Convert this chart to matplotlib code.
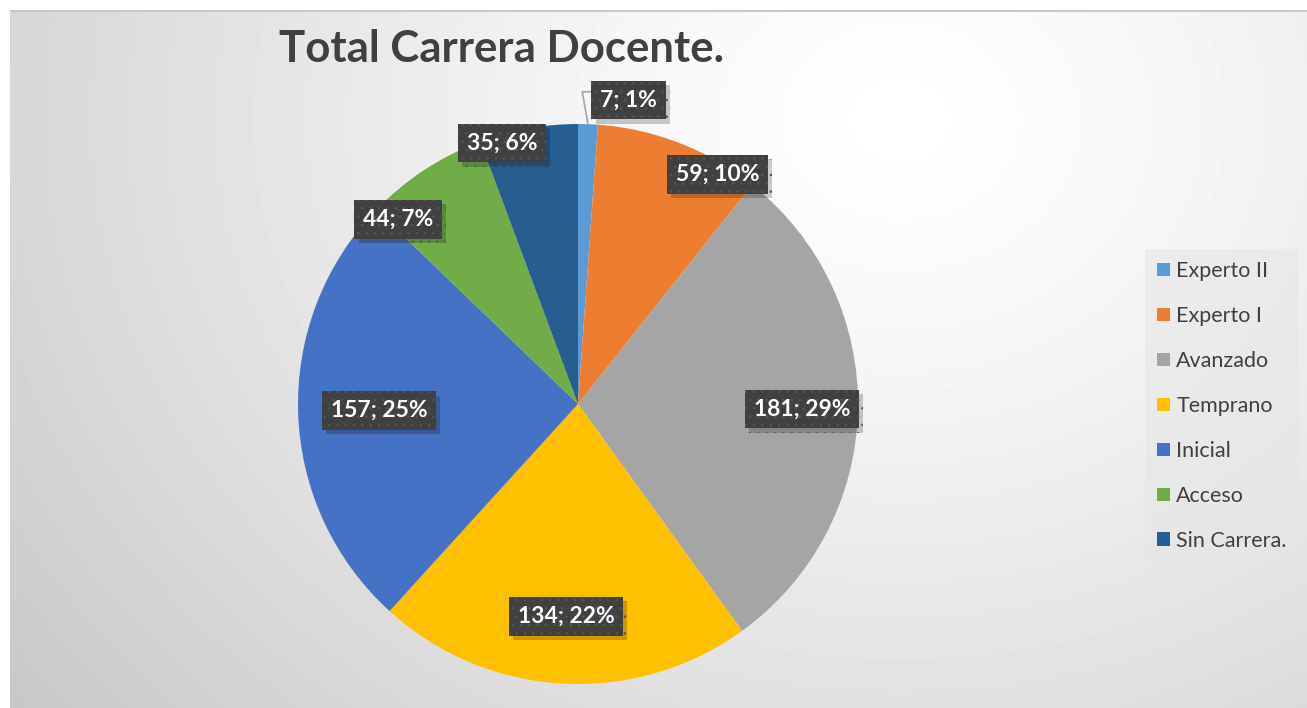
import numpy as np
import matplotlib.pyplot as plt
from matplotlib import patheffects as pe

plt.rcParams['font.family'] = ['Lato', 'DejaVu Sans']
plt.rcParams['hatch.linewidth'] = 0.6

categories = ["Experto II", "Experto I", "Avanzado", "Temprano", "Inicial", "Acceso", "Sin Carrera."]
values = [7, 59, 181, 134, 157, 44, 35]
colors = ["#5B9BD5", "#ED7D31", "#A5A5A5", "#FFC000", "#4472C4", "#70AD47", "#255E91"]

# label placement: radius factor and angle nudge (deg) per wedge
label_r = [1.10, 0.96, 0.80, 0.76, 0.71, 0.92, 0.97]
label_da = [-7.4, -10, 0, 0, 0, 11, 6]

W, H = 1307, 708
fig = plt.figure(figsize=(W / 100, H / 100), dpi=100, facecolor="white")

# background gradient
bg = fig.add_axes([10 / W, 0, 1 - 10 / W, 1 - 10 / H])
yy, xx = np.mgrid[0:698, 0:1297]
d = np.hypot(xx - 890, (yy - 110) * 1.2)
v = 1 - 0.21 * (d / 1100) ** 1.3
bg.imshow(v, cmap="gray", vmin=0, vmax=1, aspect="auto", interpolation="bilinear")
bg.axhline(0, color="#c8c8c8", lw=1.5)
bg.axis("off")

ax = fig.add_axes([298 / W, 24 / H, 560 / W, 560 / H])
wedges, _ = ax.pie(values, colors=colors, startangle=90, counterclock=False,
                   radius=1, center=(0, 0), frame=True)
ax.set_xlim(-1, 1)
ax.set_ylim(-1, 1)
ax.axis("off")

total = sum(values)
for i, w in enumerate(wedges):
    mid = (w.theta1 + w.theta2) / 2
    a = np.deg2rad(mid + label_da[i])
    x, y = label_r[i] * np.cos(a), label_r[i] * np.sin(a)
    txt = f"{values[i]}; {round(100 * values[i] / total)}%"
    bbox = dict(boxstyle="square,pad=0.38", fc="#404040", ec="#555555", lw=0, hatch="..")
    if i == 0:
        ea = np.deg2rad(mid)
        t = ax.annotate(txt, xy=(np.cos(ea), np.sin(ea)), xytext=(x, y),
                        ha="center", va="center", color="white", fontsize=16.5,
                        fontweight="bold", bbox=bbox, annotation_clip=False,
                        arrowprops=dict(arrowstyle="-", color="#a6a6a6", lw=1.2,
                                        shrinkA=0, shrinkB=0, relpos=(0, 0.9),
                                        connectionstyle="angle,angleA=180,angleB=100,rad=0"))
    else:
        t = ax.text(x, y, txt, ha="center", va="center", color="white", fontsize=16.5,
                    fontweight="bold", bbox=bbox)
    t.get_bbox_patch().set_path_effects(
        [pe.SimplePatchShadow(offset=(3, -3), shadow_rgbFace="black", alpha=0.2), pe.Normal()])

fig.text(501 / W, 1 - 49 / H, "Total Carrera Docente.", ha="center", va="center",
         fontsize=31.5, fontweight="bold", color="#404040")

leg = fig.legend(wedges, categories, loc="center left", bbox_to_anchor=(1145 / W, 1 - 406 / H),
                 frameon=True, fontsize=15.5, labelcolor="#404040", handlelength=0.6,
                 handleheight=0.6, handletextpad=0.3, labelspacing=1.16,
                 borderpad=0.55, borderaxespad=0, fancybox=False)
leg.get_frame().set_facecolor("#e6e6e6")
leg.get_frame().set_edgecolor("none")
leg.get_frame().set_alpha(0.6)

fig.savefig("out.png", dpi=100, facecolor="white")
